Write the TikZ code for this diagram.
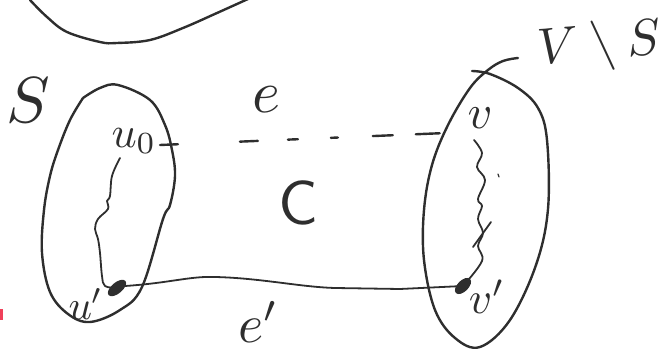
\documentclass[tikz,border=0pt]{standalone}
\usetikzlibrary{shapes.geometric}
\definecolor{ink}{HTML}{2E2E2E}
\definecolor{redmark}{HTML}{F0405A}
\begin{document}
\begin{tikzpicture}[x=1pt,y=-1pt, line cap=round, line join=round,
  pen/.style={draw=ink, line width=2.4pt},
  thinpen/.style={draw=ink, line width=1.8pt},
  lbl/.style={inner sep=0pt, text=ink},
  blob/.style={ellipse, fill=ink, draw=none, minimum width=22pt, minimum height=11pt, inner sep=0pt}]
\useasboundingbox (0,0) rectangle (670,352);

% top arc (part of another set)
\draw[pen] plot[smooth, tension=0.6] coordinates {(30,0) (47,17) (67,32) (100,42) (117,43) (150,40) (183,28) (217,13) (248,-1)};

% set S
\draw[pen] plot[smooth, tension=0.6] coordinates {(83,98) (100,88) (118,85) (150,100) (165,125) (172,150) (175,176) (170,205) (163,219) (142,287) (120,310) (90,322) (68,314) (50,292) (42,253) (44,210) (50,176) (58,150) (70,120) (83,98)};

% set V\S
\draw[pen] plot[smooth, tension=0.6] coordinates {(472,71) (490,74) (518,88) (538,108) (547,140) (548,209) (536,265) (510,320) (480,347) (455,338) (435,310) (424,260) (424,210) (432,165) (448,125) (470,88) (488,70) (503,61) (518,58)};

% vertices
\coordinate (u0) at (168,145);
\coordinate (vv) at (446,133);
\node[blob, rotate=40] (u1) at (117,288) {};
\node[blob, rotate=45, minimum width=20pt] (v1) at (463,286) {};

% labels
\node[lbl, scale=6.5] (lS) at (28,100) {$S$};
\node[lbl, scale=6] (le) at (266,100) {$e$};
\node[lbl, scale=4.4] (lu0) at (134,141) {$u_0$};
\node[lbl, scale=4.8] (lv) at (480,118) {$v$};
\node[lbl, scale=6.2] (lC) at (298,203) {\sffamily C};
\node[lbl, scale=5.4] (lep) at (259,322) {$e'$};
\node[lbl, scale=4.1] (lu1) at (86,304) {$u'$};
\node[lbl, scale=4.5] (lv1) at (487,297) {$v'$};
\node[lbl, scale=5.1, rotate=5] (lVS) at (600,46) {$V\setminus S$};

% edge e (dashed)
\draw[pen, dash pattern=on 18pt off 62pt on 18pt off 30pt on 10pt off 33pt on 7pt off 35pt on 20pt off 23pt on 24pt off 10pt] (u0) ++(-8,0) -- (vv);

% edge e'
\draw[thinpen] (u1.center) ++(8,-2) .. controls (170,283) and (190,276) .. (215,277)
  .. controls (260,278) and (300,287) .. (335,288) -- (400,289) -- (v1.center);

% paths inside the sets
\draw[thinpen] plot[smooth, tension=0.6] coordinates {(120,158) (112,176) (110,196) (107,201) (108,209) (98,219) (95,229) (98,239) (100,253) (102,276) (105,286) (u1.center)};
\draw[thinpen] plot[smooth, tension=0.6] coordinates {(474,140) (482,153) (477,167) (485,180) (478,199) (482,206) (478,219) (483,233) (478,246) (482,261) (v1.center)};
\draw[thinpen] (473,247) -- (491,222);
\draw[thinpen, line width=1.2pt] (498,174) -- (499,177);

% red mark at edge
\fill[redmark] (0,309) rectangle (2.5,320);
\end{tikzpicture}
\end{document}
